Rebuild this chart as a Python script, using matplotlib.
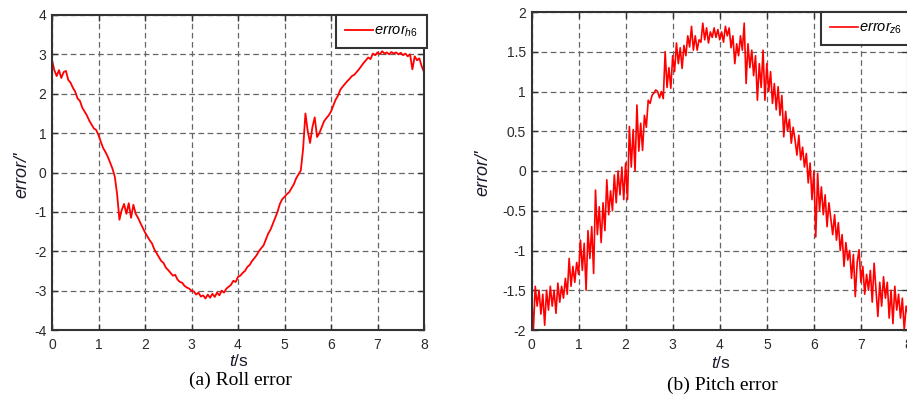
import matplotlib
matplotlib.use("Agg")
import matplotlib.pyplot as plt

plt.rcParams['font.family'] = ['Liberation Sans', 'DejaVu Sans']
plt.rcParams['mathtext.fontset'] = 'custom'
plt.rcParams['mathtext.it'] = 'Liberation Sans:italic'
plt.rcParams['mathtext.rm'] = 'Liberation Sans'
plt.rcParams['axes.unicode_minus'] = False

# ---------------- data ----------------
roll_t = [round(0.05 * i, 2) for i in range(161)]
roll_err = [
    2.85, 2.60, 2.45, 2.60, 2.40, 2.55, 2.58, 2.35, 2.28, 2.15,
    2.05, 1.88, 1.82, 1.65, 1.55, 1.45, 1.32, 1.22, 1.12, 1.08,
    0.95, 0.78, 0.62, 0.52, 0.40, 0.25, 0.10, -0.10, -0.55, -1.20,
    -0.95, -0.80, -1.05, -0.78, -1.15, -0.82, -1.05, -1.15, -1.28, -1.40,
    -1.52, -1.62, -1.72, -1.80, -1.95, -2.05, -2.15, -2.25, -2.30, -2.42,
    -2.48, -2.55, -2.62, -2.60, -2.72, -2.78, -2.80, -2.88, -2.92, -2.95,
    -3.00, -3.02, -3.10, -3.05, -3.15, -3.12, -3.20, -3.10, -3.18, -3.08,
    -3.16, -3.05, -3.12, -3.00, -3.05, -2.95, -2.90, -2.85, -2.75, -2.78,
    -2.65, -2.62, -2.55, -2.50, -2.40, -2.35, -2.25, -2.18, -2.10, -2.00,
    -1.92, -1.85, -1.70, -1.55, -1.45, -1.30, -1.15, -1.00, -0.80, -0.68,
    -0.62, -0.55, -0.50, -0.40, -0.30, -0.15, -0.05, 0.05, 0.60, 1.50,
    1.05, 0.75, 1.15, 1.40, 0.90, 1.00, 1.15, 1.30, 1.38, 1.45,
    1.55, 1.70, 1.85, 1.95, 2.10, 2.18, 2.25, 2.32, 2.38, 2.45,
    2.48, 2.55, 2.62, 2.70, 2.78, 2.85, 2.92, 2.88, 3.02, 2.98,
    3.05, 3.00, 3.08, 3.02, 3.05, 3.00, 3.06, 3.02, 3.05, 3.00,
    3.04, 2.98, 3.02, 2.95, 3.00, 2.62, 2.95, 2.85, 2.90, 2.70,
    2.55,
]

pitch_t = [round(0.04 * i, 2) for i in range(201)]
pitch_err = [
    -1.55, -2.00, -1.45, -1.70, -1.50, -1.80, -1.55, -1.94, -1.50, -1.75,
    -1.45, -1.70, -1.50, -1.79, -1.41, -1.65, -1.45, -1.60, -1.35, -1.55,
    -1.10, -1.45, -1.20, -1.40, -1.15, -1.30, -0.87, -1.25, -0.91, -1.50,
    -0.75, -1.10, -0.70, -1.29, -0.24, -0.80, -0.45, -0.90, -0.40, -0.75,
    -0.11, -0.55, -0.25, -0.50, -0.05, -0.40, 0.00, -0.30, 0.05, -0.36,
    0.10, -0.36, 0.56, 0.05, 0.52, 0.00, 0.83, 0.25, 0.60, 0.26,
    0.70, 0.55, 0.89, 0.85, 0.95, 0.98, 1.02, 1.00, 0.92, 1.00,
    0.91, 1.50, 1.05, 1.30, 1.04, 1.45, 1.25, 1.61, 1.35, 1.55,
    1.29, 1.58, 1.45, 1.70, 1.56, 1.82, 1.52, 1.70, 1.52, 1.65,
    1.62, 1.86, 1.65, 1.80, 1.61, 1.75, 1.68, 1.80, 1.68, 1.78,
    1.65, 1.75, 1.62, 1.82, 1.70, 1.80, 1.55, 1.70, 1.35, 1.60,
    1.45, 1.70, 1.52, 1.86, 1.10, 1.60, 1.30, 1.52, 1.20, 1.45,
    0.89, 1.35, 1.05, 1.52, 0.89, 1.35, 1.00, 1.25, 0.85, 1.10,
    0.77, 1.06, 0.70, 0.95, 0.43, 0.75, 0.50, 0.65, 0.35, 0.55,
    0.39, 0.20, 0.45, 0.14, 0.30, 0.05, 0.22, -0.15, 0.10, -0.36,
    0.00, -0.83, -0.03, -0.50, -0.20, -0.55, -0.30, -0.70, -0.40, -0.60,
    -0.80, -0.55, -0.87, -0.65, -1.00, -0.80, -1.20, -0.90, -1.12, -1.00,
    -1.35, -1.05, -1.58, -1.15, -0.99, -1.40, -1.20, -1.55, -1.30, -1.50,
    -1.25, -1.65, -1.16, -1.50, -1.83, -1.40, -1.70, -1.33, -1.60, -1.40,
    -1.85, -1.50, -1.92, -1.45, -1.75, -1.55, -1.85, -1.60, -2.00, -1.70,
    -1.80,
]

x_ticks = [0, 1, 2, 3, 4, 5, 6, 7, 8]
roll_yticks = [-4, -3, -2, -1, 0, 1, 2, 3, 4]
pitch_yticks = [-2, -1.5, -1, -0.5, 0, 0.5, 1, 1.5, 2]
pitch_yticklabels = ['-2', '-1.5', '-1', '-0.5', '0', '0.5', '1', '1.5', '2']
roll_legend = r'$error_{h6}$'
pitch_legend = r'$error_{z6}$'
ylabel = "error/'"
xlabel = r'$t/$s'
captions = ['(a) Roll error', '(b) Pitch error']

# ---------------- figure ----------------
W, H = 907, 403
fig = plt.figure(figsize=(W / 100, H / 100), dpi=100)
fig.patch.set_facecolor('white')

def fx(px):
    return px / W

def fy(py):
    return 1 - py / H

axL = fig.add_axes([fx(52), fy(330), fx(424) - fx(52), fy(15) - fy(330)])
axR = fig.add_axes([fx(531.5), fy(330), fx(908) - fx(531.5), fy(12) - fy(330)])

tick_color = '#2a2a2a'
spine_color = '#333333'

def style(ax, yticks, ylabels=None):
    ax.set_xlim(0, 8)
    ax.set_xticks(x_ticks)
    ax.set_yticks(yticks)
    if ylabels is not None:
        ax.set_yticklabels(ylabels)
    ax.set_ylim(yticks[0], yticks[-1])
    ax.grid(True, color='#666666', linestyle=(0, (4.5, 2.8)), linewidth=0.9)
    ax.tick_params(direction='in', length=4, width=1, colors=spine_color,
                   labelcolor=tick_color, labelsize=10, top=True, right=True)
    ax.tick_params(axis='x', pad=6)
    ax.tick_params(axis='y', pad=4)
    for s in ax.spines.values():
        s.set_color(spine_color)
        s.set_linewidth(1.5)
    ax.set_axisbelow(True)

style(axL, roll_yticks)
style(axR, pitch_yticks, pitch_yticklabels)

axL.plot(roll_t, roll_err, color='#ff0000', linewidth=1.3, label=roll_legend)
axR.plot(pitch_t, pitch_err, color='#ff0000', linewidth=1.2, label=pitch_legend)

for ax in (axL, axR):
    leg = ax.legend(loc='upper right', bbox_to_anchor=(1.008, 1.0), borderaxespad=0,
                    fontsize=10.5, handlelength=1.9, handletextpad=0.1, borderpad=0.6,
                    fancybox=False, framealpha=1, edgecolor='#333333')
    leg.get_frame().set_linewidth(1.5)

# y labels
for x, y in ((22, 175), (483, 173)):
    fig.text(fx(x), fy(y), ylabel, rotation=90, ha='center', va='center',
             fontsize=13, fontstyle='italic', color='#1a1a2a')

# x labels
fig.text(fx(239), fy(361), xlabel, ha='center', va='center', fontsize=12.5, color='#1a1a2a')
fig.text(fx(721), fy(363), xlabel, ha='center', va='center', fontsize=12.5, color='#1a1a2a')

# captions
fig.text(fx(240), fy(380), captions[0], ha='center', va='center', fontsize=14,
         family='Liberation Serif', color='black')
fig.text(fx(722), fy(385), captions[1], ha='center', va='center', fontsize=14,
         family='Liberation Serif', color='black')

fig.savefig('out.png', dpi=100, facecolor='white')
